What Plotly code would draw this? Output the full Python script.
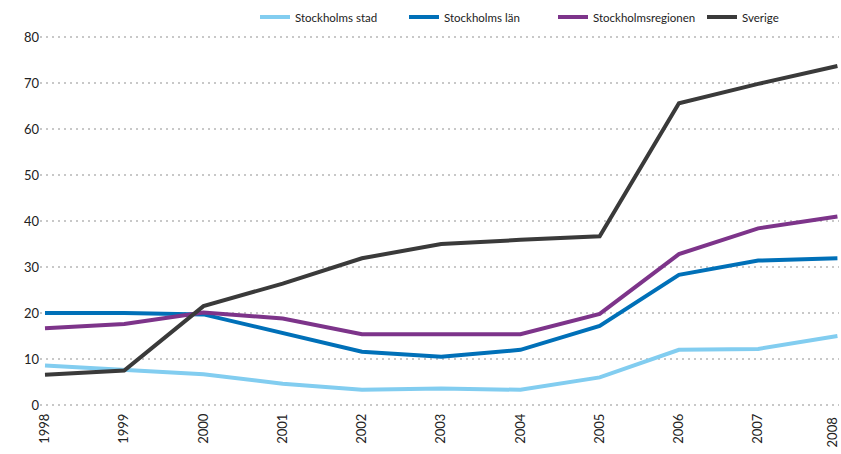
import plotly.graph_objects as go

years = [1998, 1999, 2000, 2001, 2002, 2003, 2004, 2005, 2006, 2007, 2008]
year_labels = [str(y) for y in years]
stockholms_stad = [8.6, 7.7, 6.7, 4.6, 3.3, 3.6, 3.3, 6.0, 12.0, 12.2, 15.0]
stockholms_lan = [20.0, 20.0, 19.7, 15.6, 11.6, 10.5, 12.0, 17.2, 28.3, 31.4, 31.9]
stockholmsregionen = [16.7, 17.6, 20.1, 18.8, 15.4, 15.3, 15.4, 19.8, 32.8, 38.4, 41.0]
sverige = [6.6, 7.5, 21.5, 26.4, 31.9, 35.0, 35.9, 36.7, 65.6, 69.8, 73.7]

series = [
    ("Stockholms stad", stockholms_stad, "#82CDF0"),
    ("Stockholms län", stockholms_lan, "#0070B8"),
    ("Stockholmsregionen", stockholmsregionen, "#7D348A"),
    ("Sverige", sverige, "#3A3A3A"),
]
y_ticks = [0, 10, 20, 30, 40, 50, 60, 70, 80]

fig = go.Figure()
for name, vals, col in series:
    fig.add_trace(go.Scatter(x=years, y=vals, name=name, mode="lines",
                             line=dict(color=col, width=4), cliponaxis=False))

# last tick label drawn as annotation so it can be nudged inside the page edge
ticktext = year_labels[:-1] + [""]
fig.add_annotation(x=years[-1], y=0, xref="x", yref="paper", yshift=-5, xshift=-5,
                   text=year_labels[-1], textangle=-90, showarrow=False,
                   xanchor="center", yanchor="top",
                   font=dict(size=13, color="#222"))

font_family = "Lato, 'Open Sans', sans-serif"
fig.update_layout(
    width=841, height=454,
    margin=dict(l=40, r=2, t=30, b=44, autoexpand=False),
    paper_bgcolor="white", plot_bgcolor="white",
    font=dict(family=font_family, size=13, color="#222"),
    showlegend=True,
    legend=dict(orientation="h", x=(255 - 40) / 799, xanchor="left", y=1.034, yanchor="middle",
                font=dict(size=11.5, color="#222"), entrywidth=104, entrywidthmode="pixels",
                tracegroupgap=0, bgcolor="rgba(0,0,0,0)"),
    xaxis=dict(range=[1997.937, 2008.02], tickmode="array", tickvals=years,
               ticktext=ticktext, tickangle=-90,
               showgrid=False, zeroline=False, showline=False, ticks="",
               automargin=False, tickfont=dict(size=13, color="#222")),
    yaxis=dict(range=[-1.087, 81.52], tickmode="array", tickvals=y_ticks,
               showgrid=True, gridcolor="#C8C8C8", gridwidth=2, griddash="2px,4px",
               zeroline=False, showline=False, ticks="", automargin=False,
               tickfont=dict(size=13, color="#222")),
)
fig.write_html("out.html", config={"displayModeBar": False},
               post_script="document.body.style.margin='0';document.body.style.overflow='hidden';")
